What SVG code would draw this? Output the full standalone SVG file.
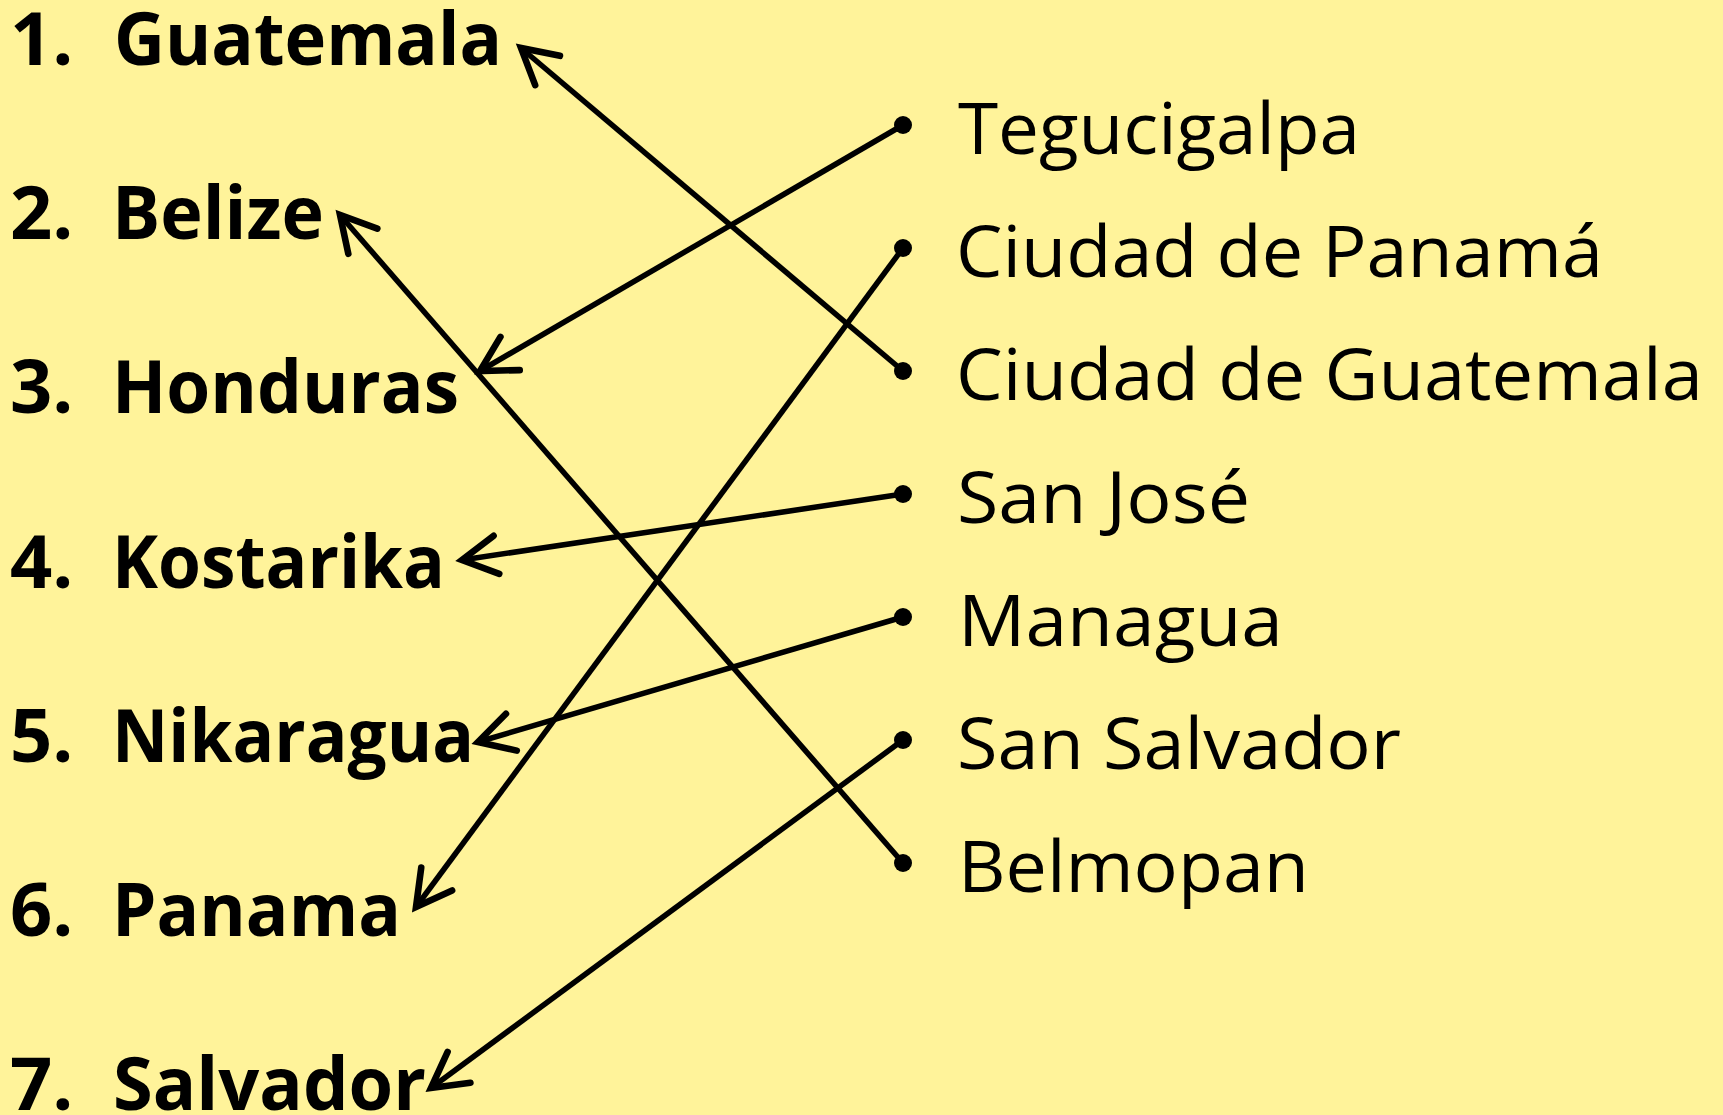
<svg xmlns="http://www.w3.org/2000/svg" width="1723" height="1115" viewBox="0 0 1723 1115">
<defs>
<style>
.c{font-family:"Open Sans","Noto Sans","Liberation Sans",sans-serif;font-weight:700;font-size:74px;fill:#000}
.k{font-family:"Open Sans","Noto Sans","Liberation Sans",sans-serif;font-weight:400;font-size:72px;fill:#000}
.ln{stroke:#000;stroke-width:5.5;fill:none;marker-end:url(#arr)}
.dot{fill:#000}
</style>
<marker id="arr" markerUnits="userSpaceOnUse" orient="auto" refX="0" refY="0" markerWidth="60" markerHeight="60" viewBox="-40 -25 50 50" overflow="visible">
<path d="M-29,-16 L0,0 L-29,16" fill="none" stroke="#000" stroke-width="5.5" stroke-linecap="round" stroke-linejoin="miter"/>
</marker>
</defs>
<rect x="0" y="0" width="1723" height="1115" fill="#FFF39A"/>
<g id="countries">
<g id="n1"><text class="c" x="10" y="65">1.</text><text class="c" x="114" y="65" textLength="388" lengthAdjust="spacingAndGlyphs">Guatemala</text></g>
<g id="n2"><text class="c" x="10" y="239">2.</text><text class="c" x="112" y="239" textLength="212" lengthAdjust="spacingAndGlyphs">Belize</text></g>
<g id="n3"><text class="c" x="10" y="413">3.</text><text class="c" x="112" y="413" textLength="347" lengthAdjust="spacingAndGlyphs">Honduras</text></g>
<g id="n4"><text class="c" x="10" y="588">4.</text><text class="c" x="112" y="588" textLength="333" lengthAdjust="spacingAndGlyphs">Kostarika</text></g>
<g id="n5"><text class="c" x="10" y="762">5.</text><text class="c" x="112" y="762" textLength="362" lengthAdjust="spacingAndGlyphs">Nikaragua</text></g>
<g id="n6"><text class="c" x="10" y="936">6.</text><text class="c" x="112" y="936" textLength="289" lengthAdjust="spacingAndGlyphs">Panama</text></g>
<g id="n7"><text class="c" x="10" y="1110">7.</text><text class="c" x="113" y="1110" textLength="313" lengthAdjust="spacingAndGlyphs">Salvador</text></g>
</g>
<g id="capitals">
<g id="c1"><circle class="dot" cx="903" cy="125" r="9"/><text class="k" x="958" y="154" textLength="402" lengthAdjust="spacingAndGlyphs">Tegucigalpa</text></g>
<g id="c2"><circle class="dot" cx="903" cy="248" r="9"/><text class="k" x="956" y="277" textLength="647" lengthAdjust="spacingAndGlyphs">Ciudad de Panamá</text></g>
<g id="c3"><circle class="dot" cx="903" cy="371" r="9"/><text class="k" x="956" y="400" textLength="747" lengthAdjust="spacingAndGlyphs">Ciudad de Guatemala</text></g>
<g id="c4"><circle class="dot" cx="903" cy="494" r="9"/><text class="k" x="957" y="523" textLength="293" lengthAdjust="spacingAndGlyphs">San José</text></g>
<g id="c5"><circle class="dot" cx="903" cy="617" r="9"/><text class="k" x="958" y="646" textLength="325" lengthAdjust="spacingAndGlyphs">Managua</text></g>
<g id="c6"><circle class="dot" cx="903" cy="740" r="9"/><text class="k" x="957" y="769" textLength="444" lengthAdjust="spacingAndGlyphs">San Salvador</text></g>
<g id="c7"><circle class="dot" cx="903" cy="863" r="9"/><text class="k" x="958" y="892" textLength="351" lengthAdjust="spacingAndGlyphs">Belmopan</text></g>
</g>
<g id="connectors">
<line class="ln" x1="903" y1="371" x2="521" y2="48"/>
<line class="ln" x1="903" y1="863" x2="340" y2="215"/>
<line class="ln" x1="903" y1="125" x2="480" y2="371"/>
<line class="ln" x1="903" y1="494" x2="462" y2="560"/>
<line class="ln" x1="903" y1="617" x2="478" y2="742"/>
<line class="ln" x1="903" y1="248" x2="416" y2="907"/>
<line class="ln" x1="903" y1="740" x2="431" y2="1088"/>
</g>
</svg>
